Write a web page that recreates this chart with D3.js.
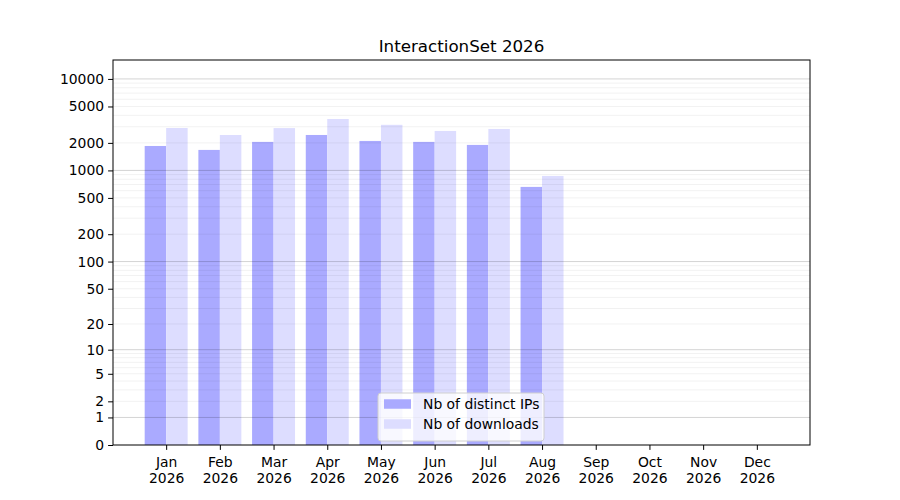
<!DOCTYPE html>
<html>
<head>
<meta charset="utf-8">
<script src="https://cdn.jsdelivr.net/npm/d3@7"></script>
<style>
  body { margin: 0; background: #fff; }
  svg { font-family: "DejaVu Sans", sans-serif; }
</style>
</head>
<body>
<div id="chart"></div>
<script>
// values
const months = ["Jan", "Feb", "Mar", "Apr", "May", "Jun", "Jul", "Aug", "Sep", "Oct", "Nov", "Dec"];
const year = "2026";
const distinctIPs = [1850, 1675, 2050, 2440, 2100, 2050, 1900, 660, 0, 0, 0, 0];
const downloads = [2910, 2440, 2900, 3650, 3150, 2700, 2840, 870, 0, 0, 0, 0];
const yTicks = [0, 1, 2, 5, 10, 20, 50, 100, 200, 500, 1000, 2000, 5000, 10000];
const majorGrid = [1, 10, 100, 1000, 10000];
const minorGrid = [];
[1, 10, 100, 1000].forEach(d => { for (let k = 2; k <= 9; k++) minorGrid.push(k * d); });

const width = 900, height = 500;
const margin = { left: 113, right: 810, top: 60, bottom: 445 };
const fs = 13.9;

const svg = d3.select("#chart").append("svg")
    .attr("width", width).attr("height", height);

// bar positions as in matplotlib: index -0.4..0 and 0..0.4
const x = d3.scaleLinear().domain([-0.99, 11.99]).range([margin.left, margin.right]);
const y = d3.scaleSymlog().constant(1).domain([0, 16100]).range([margin.bottom, margin.top]);
const bw = 0.4;

const plot = svg.append("g");

plot.selectAll("rect.ips").data(distinctIPs).join("rect")
    .attr("class", "ips")
    .attr("x", (d, i) => x(i - bw))
    .attr("width", x(bw) - x(0))
    .attr("y", d => y(d))
    .attr("height", d => y(0) - y(d))
    .attr("fill", "#aaaaff");

plot.selectAll("rect.dl").data(downloads).join("rect")
    .attr("class", "dl")
    .attr("x", (d, i) => x(i))
    .attr("width", x(bw) - x(0))
    .attr("y", d => y(d))
    .attr("height", d => y(0) - y(d))
    .attr("fill", "#ddddff");

// grid on top, translucent like the original
plot.selectAll("line.minor").data(minorGrid).join("line")
    .attr("class", "minor")
    .attr("x1", margin.left).attr("x2", margin.right)
    .attr("y1", d => y(d)).attr("y2", d => y(d))
    .attr("stroke", "#000").attr("stroke-opacity", 0.07).attr("stroke-width", 0.8);

plot.selectAll("line.major").data(majorGrid).join("line")
    .attr("class", "major")
    .attr("x1", margin.left).attr("x2", margin.right)
    .attr("y1", d => y(d)).attr("y2", d => y(d))
    .attr("stroke", "#000").attr("stroke-opacity", 0.22).attr("stroke-width", 0.8);

// axes
const yAxis = d3.axisLeft(y).tickValues(yTicks).tickFormat(d3.format("d")).tickSizeOuter(0).tickSize(4.9).tickPadding(4);
const gy = svg.append("g").attr("transform", `translate(${margin.left},0)`).call(yAxis);
gy.select(".domain").remove();
gy.selectAll("text").attr("font-size", fs).attr("fill", "#000").attr("font-family", "DejaVu Sans");

const xAxis = d3.axisBottom(x).tickValues(d3.range(months.length)).tickFormat(() => "").tickSizeOuter(0).tickSize(4.9);
const gx = svg.append("g").attr("transform", `translate(0,${margin.bottom})`).call(xAxis);
gx.select(".domain").remove();
gx.selectAll(".tick").each(function (d) {
  const t = d3.select(this).select("text");
  t.attr("y", 0).attr("dy", null).attr("font-size", fs).attr("fill", "#000").attr("font-family", "DejaVu Sans");
  t.append("tspan").attr("x", 0).attr("y", 21.5).text(months[d]);
  t.append("tspan").attr("x", 0).attr("y", 38).text(year);
});

svg.append("rect")
    .attr("x", margin.left).attr("y", margin.top)
    .attr("width", margin.right - margin.left).attr("height", margin.bottom - margin.top)
    .attr("fill", "none").attr("stroke", "#000").attr("stroke-width", 1);

svg.append("text")
    .attr("x", (margin.left + margin.right) / 2).attr("y", 52)
    .attr("text-anchor", "middle").attr("font-size", 16.7)
    .text("InteractionSet 2026");

// legend
const legendItems = [
  { label: "Nb of distinct IPs", color: "#aaaaff" },
  { label: "Nb of downloads", color: "#ddddff" }
];
const lg = svg.append("g").attr("transform", "translate(378,393)");
lg.append("rect")
    .attr("width", 166).attr("height", 48).attr("rx", 3)
    .attr("fill", "#fff").attr("fill-opacity", 0.8)
    .attr("stroke", "#d0d0d0").attr("stroke-width", 1);
const rows = lg.selectAll("g.row").data(legendItems).join("g")
    .attr("class", "row")
    .attr("transform", (d, i) => `translate(6,${11 + i * 20})`);
rows.append("rect").attr("width", 27).attr("height", 9.5).attr("y", -4.75).attr("fill", d => d.color);
rows.append("text").attr("x", 39).attr("dy", "0.35em").attr("font-size", fs).text(d => d.label);
</script>
</body>
</html>
